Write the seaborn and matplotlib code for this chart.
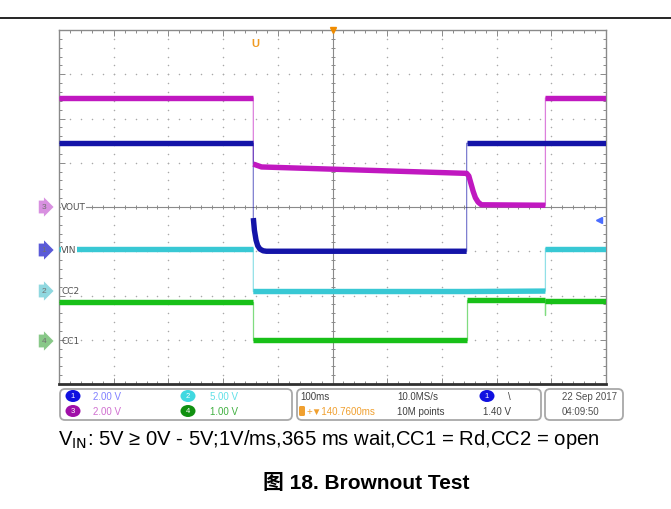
import matplotlib
matplotlib.use('Agg')
import matplotlib.pyplot as plt
import numpy as np
import pandas as pd
import seaborn as sns
from matplotlib.patches import FancyBboxPatch, Ellipse

# Данные каналов осциллографа (время в мс относительно триггера, напряжение в В).
t_vin = [-359.24, -4, -4, -2, 1, 4, 8, 14, 20, 386, 386, 640.76]
v_vin = [4.88, 4.88, 1.5, 0.95, 0.5, 0.25, 0.1, 0.02, 0.0, 0.0, 4.88, 4.88]

t_vout = [-359.24, -4, -4, 11, 386, 390, 394, 398, 402, 407, 413, 530, 530, 640.76]
v_vout = [4.93, 4.93, 1.94, 1.81, 1.52, 1.40, 1.05, 0.70, 0.42, 0.22, 0.10, 0.08, 4.93, 4.93]

t_cc2 = [-359.24, -4, -4, 386, 530, 530, 640.76]
v_cc2 = [5.31, 5.31, 0.45, 0.45, 0.50, 5.31, 5.31]

t_cc1 = [-359.24, -4, -4, 386, 386, 530, 530, 530, 640.76]
v_cc1 = [0.86, 0.86, 0.0, 0.0, 0.89, 0.89, 0.55, 0.88, 0.88]

# Настройки каналов: имя, данные, В/дел, смещение нуля (дел.), цвет.
channels = [
    ('CC1', t_cc1, v_cc1, 1.0, 1.0, '#18c018'),
    ('CC2', t_cc2, v_cc2, 5.0, 2.0, '#38c8d4'),
    ('VOUT', t_vout, v_vout, 2.0, 4.0, '#c018c0'),
    ('VIN', t_vin, v_vin, 2.0, 3.0, '#1414a8'),
]

scale_labels = ['2.00 V', '5.00 V', '2.00 V', '1.00 V']
time_div = '100ms'
sample_rate = '10.0MS/s'
record_len = '10M points'
trig_offset = '140.7600ms'
trig_level = '1.40 V'
date_text = '22 Sep 2017'
time_text = '04:09:50'
caption = r'V$_{\rm IN}$: 5V ≥ 0V - 5V;1V/ms,365 ms wait,CC1 = Rd,CC2 = open'
title = '图 18. Brownout Test'

t_left, t_right = -359.24, 640.76
t_center = 140.76

sns.set_style('white')
plt.rcParams['font.family'] = ['Liberation Sans', 'Noto Sans CJK SC', 'DejaVu Sans']
plt.rcParams['mathtext.default'] = 'regular'

fig = plt.figure(figsize=(6.71, 5.10), dpi=100)
ax = fig.add_axes([59 / 671, 1 - 385 / 510, 547 / 671, 354 / 510])
ax.set_xlim(t_left, t_right)
ax.set_ylim(0, 8)

# Сетка экрана: точки на основных линиях.
grid_x = [t_center + k * 100 for k in range(-4, 5) if k != 0]
grid_y = [k for k in range(1, 8) if k != 4]
dots_y = np.arange(0, 8.01, 0.2)
dots_x = np.arange(t_left, t_right + 0.1, 20)
for gx in grid_x:
    ax.scatter([gx] * len(dots_y), dots_y, s=1.2, color='#a8a8a8', lw=0, zorder=1)
for gy in grid_y:
    ax.scatter(dots_x, [gy] * len(dots_x), s=1.2, color='#a8a8a8', lw=0, zorder=1)

# Центральный крест с делениями.
ax.axhline(4, color='#8a8a8a', lw=0.8, zorder=1)
ax.axvline(t_center, color='#8a8a8a', lw=0.8, zorder=1)
ax.plot(dots_x, [4] * len(dots_x), ls='none', marker='|', ms=3.5, mew=0.7,
        color='#8a8a8a', zorder=1)
ax.plot([t_center] * len(dots_y), dots_y, ls='none', marker='_', ms=3.5, mew=0.7,
        color='#8a8a8a', zorder=1)

# Рамка и деления по краям.
ax.set_xticks([t_center + k * 100 for k in range(-5, 6)])
ax.set_xticks(dots_x, minor=True)
ax.set_yticks(range(9))
ax.set_yticks(dots_y, minor=True)
ax.tick_params(which='both', direction='in', top=True, right=True, left=True, bottom=True,
               labelbottom=False, labelleft=False, color='#8a8a8a', width=0.7)
ax.tick_params(which='major', length=4)
ax.tick_params(which='minor', length=2.5)
for s in 'top', 'left', 'right':
    ax.spines[s].set_color('#8a8a8a')
    ax.spines[s].set_linewidth(1.0)
ax.spines['bottom'].set_color('#303030')
ax.spines['bottom'].set_linewidth(2.0)

# Трассы каналов: тонкие фронты и толстые горизонтальные участки.
for name, t, v, vdiv, offset, color in channels:
    df = pd.DataFrame({'t': t, 'y': offset + np.array(v) / vdiv})
    df['seg'] = (df['t'].diff() == 0).cumsum()
    sns.lineplot(data=df, x='t', y='y', sort=False, estimator=None, color=color,
                 lw=0.9, alpha=0.55, ax=ax, legend=False, zorder=3)
    sns.lineplot(data=df, x='t', y='y', units='seg', sort=False, estimator=None,
                 color=color, lw=3.9, ax=ax, legend=False, zorder=4,
                 solid_capstyle='butt', solid_joinstyle='round')
ax.set_xlabel('')
ax.set_ylabel('')

# Маркер уровня триггера справа.
ax.plot([t_right - 12], [3.0 + 1.40 / 2.0], marker='<', ms=5, color='#4a6cff',
        ls='none', zorder=5, clip_on=False)
# Маркер положения триггера сверху.
ax.plot([t_center], [8], marker='v', ms=5, color='#f08c00', ls='none', zorder=6,
        clip_on=False)

# Слой в пиксельных координатах для подписей и панели.
over = fig.add_axes([0, 0, 1, 1])
over.set_xlim(0, 671)
over.set_ylim(510, 0)
over.axis('off')
over.patch.set_alpha(0)

over.plot([0, 671], [19, 19], color='black', lw=1.2)

over.text(255, 44, 'U', color='#f09a20', fontsize=8, fontweight='bold',
          ha='center', va='center')

# Метки каналов слева.
tag_colors = {'CC1': '#88c888', 'CC2': '#90d8e0', 'VOUT': '#d890e0', 'VIN': '#5a5ad8'}
tag_nums = {'CC1': '4', 'CC2': '2', 'VOUT': '3', 'VIN': '1'}
tag_y = {'VOUT': 208, 'VIN': 251, 'CC2': 292, 'CC1': 342}
for name in tag_y:
    ypx = tag_y[name]
    over.text(44, ypx, tag_nums[name], fontsize=6, color='#707070', ha='center',
              va='center', bbox=dict(boxstyle='rarrow,pad=0.35', fc=tag_colors[name],
                                     ec='none'))
    over.text(61, ypx, name, fontsize=6.5, color='#505050', ha='left', va='center',
              family='DejaVu Sans',
              bbox=dict(boxstyle='square,pad=0.05', fc='white', ec='none')
              if name in ('VIN', 'VOUT') else None)

# Информационная панель.
for x0, x1 in ((60, 292), (297, 541), (545, 623)):
    over.add_patch(FancyBboxPatch((x0, 390), x1 - x0, 31,
                                  boxstyle='round,pad=0,rounding_size=5',
                                  fc='white', ec='#a8a8a8', lw=1.3))

circles = [(73, 397, '#1010e0', '1'), (188, 397, '#40d8e0', '2'),
           (73, 412, '#a010a8', '3'), (188, 412, '#109010', '4'),
           (487, 397, '#1010e0', '1')]
for cx, cy, cc, num in circles:
    over.add_patch(Ellipse((cx, cy), 15, 12, fc=cc, ec='none'))
    over.text(cx, cy, num, color='white', fontsize=5.5, ha='center', va='center')

scale_pos = [(93, 397, '#8080ff'), (210, 397, '#60e0e8'),
             (93, 412, '#d070d0'), (210, 412, '#40b040')]
for (px, py, pc), lab in zip(scale_pos, scale_labels):
    over.text(px, py, lab, color=pc, fontsize=7, ha='left', va='center')

over.text(300, 397, time_div, color='#404040', fontsize=7, ha='left', va='center')
over.text(397, 397, sample_rate, color='#404040', fontsize=7, ha='left', va='center')
over.text(397, 412, record_len, color='#404040', fontsize=7, ha='left', va='center')
over.text(508, 397, '\\', color='#404040', fontsize=7, ha='left', va='center')
over.text(483, 412, trig_level, color='#404040', fontsize=7, ha='left', va='center')
over.add_patch(FancyBboxPatch((299, 407), 6, 10, boxstyle='round,pad=0,rounding_size=1.5',
                              fc='#f0a030', ec='none'))
over.text(307, 412, '+▼' + trig_offset, color='#f0a030', fontsize=7, ha='left',
          va='center')
over.text(562, 397, date_text, color='#505050', fontsize=7, ha='left', va='center')
over.text(562, 412, time_text, color='#505050', fontsize=7, ha='left', va='center')

# Подписи под осциллограммой.
over.text(58, 440, caption, fontsize=14.6, color='black', ha='left', va='center')
over.text(366, 484, title, fontsize=15, fontweight='bold', color='black',
          ha='center', va='center')

fig.savefig('out.png', dpi=100)
